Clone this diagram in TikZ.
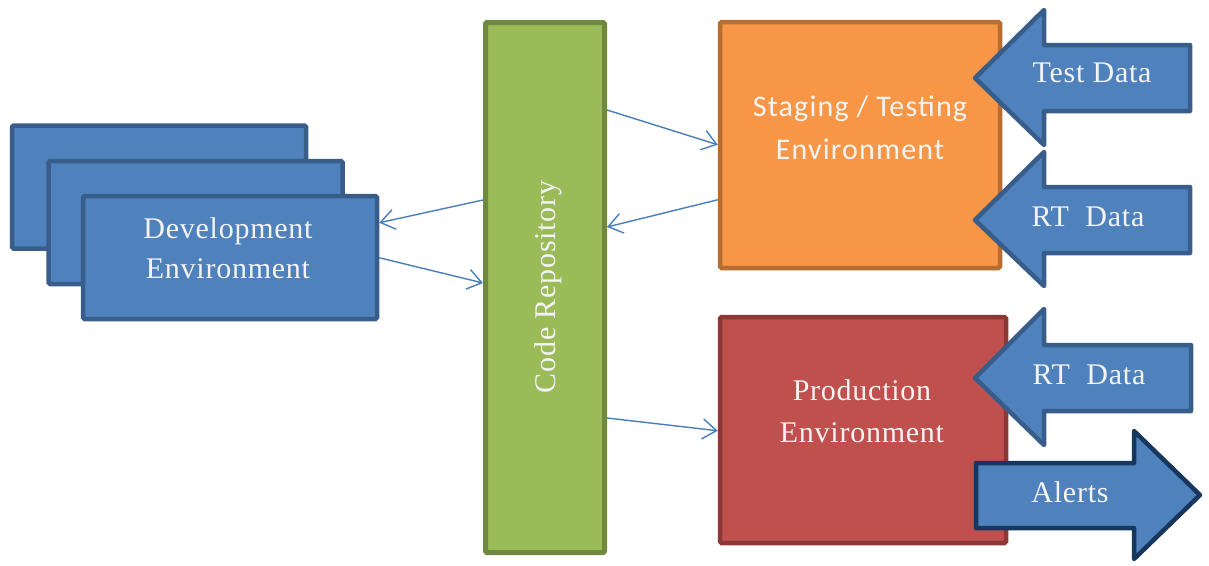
\documentclass[tikz,border=0pt]{standalone}
\usepackage{fontspec}
\setmainfont{Liberation Serif}[LetterSpace=2.5]
\newfontfamily\calibri{Carlito}[LetterSpace=4]
\usetikzlibrary{arrows.meta}
\definecolor{devfill}{HTML}{4F81BD}
\definecolor{devline}{HTML}{385D8A}
\definecolor{repofill}{HTML}{9BBB59}
\definecolor{repoline}{HTML}{71893F}
\definecolor{stagfill}{HTML}{F79646}
\definecolor{stagline}{HTML}{B66D31}
\definecolor{prodfill}{HTML}{C0504D}
\definecolor{prodline}{HTML}{8C3836}
\definecolor{alertline}{HTML}{17375E}
\definecolor{connc}{HTML}{4A7EBB}
\definecolor{txt}{HTML}{F4F4F4}
\begin{document}
\begin{tikzpicture}[x=1pt,y=-1pt,
  box/.style={draw, line width=4.5pt, rounded corners=1.5pt, inner sep=0pt},
  devbox/.style={box, fill=devfill, draw=devline, minimum width=294pt, minimum height=123pt},
  lbl/.style={text=txt, align=center, inner sep=0pt, font=\fontsize{30}{40}\selectfont},
  conn/.style={draw=connc, line width=1.4pt, -{Straight Barb[length=14pt,width=20pt]}},
  barrow/.style={fill=devfill, draw=devline, line width=4.5pt, line join=round}
]
\useasboundingbox (0,0) rectangle (1209,565);
% development environments
\node[devbox] (dev1) at (159,187) {};
\node[devbox] (dev2) at (195.5,222.5) {};
\node[devbox] (dev3) at (230,257.5) {};
\node[lbl] (devt) at (228,248) {Development\\Environment};
% code repository
\node[box, fill=repofill, draw=repoline, line width=5pt, minimum width=119pt, minimum height=530pt] (repo) at (545,287.5) {};
\node[lbl, rotate=90] (repot) at (548,287) {Code Repository};
% staging
\node[box, fill=stagfill, draw=stagline, minimum width=280pt, minimum height=246pt] (stag) at (860,145) {};
\node[lbl, font=\calibri\fontsize{30}{43}\selectfont] (stagt) at (860,128) {Staging / Testing\\Environment};
% production
\node[box, fill=prodfill, draw=prodline, minimum width=286pt, minimum height=226pt] (prod) at (863,430) {};
\node[lbl, font=\fontsize{30}{42}\selectfont] (prodt) at (862,411) {Production\\Environment};
% block arrows
\draw[barrow] (975,78) -- (1044,10) -- (1044,45) -- (1190,45) -- (1190,111) -- (1044,111) -- (1044,145) -- cycle;
\node[lbl] (testd) at (1092,73) {Test Data};
\draw[barrow] (975,220) -- (1044,152) -- (1044,187) -- (1190,187) -- (1190,253) -- (1044,253) -- (1044,286) -- cycle;
\node[lbl] (rt1) at (1088,217) {RT~~Data};
\draw[barrow] (975,378) -- (1044,309) -- (1044,345) -- (1191,345) -- (1191,411) -- (1044,411) -- (1044,445) -- cycle;
\node[lbl] (rt2) at (1089,375) {RT~~Data};
\draw[barrow, draw=alertline] (976,463) -- (1134,463) -- (1134,431) -- (1200,495) -- (1134,559) -- (1134,528) -- (976,528) -- cycle;
\node[lbl] (alerts) at (1070,492) {Alerts};
% connectors
\draw[conn] ([yshift=-180pt]repo.north west) -- ([yshift=-29pt]dev3.north east);
\draw[conn] ([yshift=-64pt]dev3.north east) -- ([yshift=-263pt]repo.north west);
\draw[conn] ([yshift=-90pt]repo.north east) -- ([yshift=-125pt]stag.north west);
\draw[conn] ([yshift=-180pt]stag.north west) -- ([yshift=-207pt]repo.north east);
\draw[conn] ([yshift=-398pt]repo.north east) -- ([yshift=-116pt]prod.north west);
\end{tikzpicture}
\end{document}
